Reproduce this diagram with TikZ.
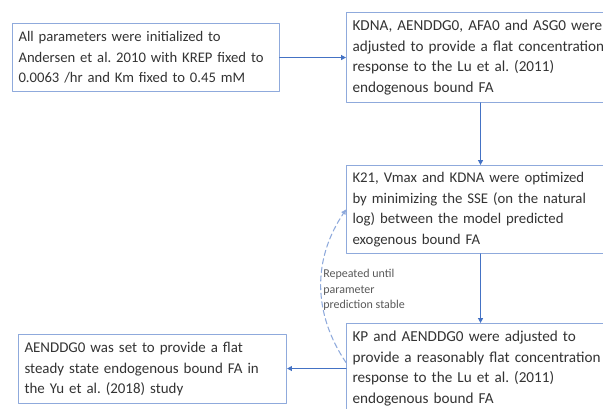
\documentclass[tikz,border=0pt]{standalone}
\usepackage{fontspec}
\setmainfont{Carlito}
\usepackage{xcolor}
\usepackage{tikz}
\usetikzlibrary{arrows.meta,positioning}
\definecolor{pkEdge}{HTML}{8FAADC}
\definecolor{pkArrow}{HTML}{4472C4}
\definecolor{pkInk}{HTML}{333333}
\definecolor{pkMuted}{HTML}{595959}
\newcommand{\pksize}[1]{\fontsize{#1}{15.3}\selectfont}
\tikzset{
  pk diagram/.style={font=\pksize{11}, text=pkInk,
    line cap=round, line join=round},
  pk box/.style={draw=pkEdge, fill=white, line width=0.8pt,
    anchor=north west, align=left, inner xsep=4.5pt, inner ysep=0pt},
  pk arrow/.style={-{Triangle[length=3.6pt,width=3.6pt]}, draw=pkArrow,
    line width=1.1pt},
  pk loop/.style={-{Triangle[length=3.6pt,width=3.6pt]}, draw=pkEdge,
    line width=0.8pt, dash pattern=on 4pt off 2.5pt},
  pk note/.style={font=\fontsize{9}{11.6}\selectfont, text=pkMuted,
    align=left, inner sep=0pt, anchor=west}
}
\begin{document}
\frenchspacing
\begin{tikzpicture}[pk diagram,x=0.75pt,y=-0.75pt]
\useasboundingbox (0,0) rectangle (603,408);
\clip (0,0) rectangle (603,408);
\node[pk box,text width=191pt,minimum height=51pt] (init) at (12,23)
  {All parameters were initialized to\\Andersen et al. 2010 with KREP fixed to\\0.0063 /hr and Km fixed to 0.45 mM};
\node[pk box,font=\pksize{11.4},text width=192pt,minimum height=67.5pt] (flat) at (346,12)
  {KDNA, AENDDG0, AFA0 and ASG0 were\\adjusted to provide a flat concentration\\response to the Lu et al. (2011)\\endogenous bound FA};
\node[pk box,font=\pksize{11.1},text width=192pt,minimum height=66pt] (optim) at (346,165)
  {K21, Vmax and KDNA were optimized\\by minimizing the SSE (on the natural\\log) between the model predicted\\exogenous bound FA};
\node[pk box,font=\pksize{11.4},text width=192pt,minimum height=67.5pt] (adjust) at (346,323)
  {KP and AENDDG0 were adjusted to\\provide a reasonably flat concentration\\response to the Lu et al. (2011)\\endogenous bound FA};
\node[pk box,font=\pksize{11.2},text width=192pt,minimum height=51.75pt] (steady) at (18,334)
  {AENDDG0 was set to provide a flat\\steady state endogenous bound FA in\\the Yu et al. (2018) study};
\node[pk note] (repeat) at (323,290) {Repeated until\\parameter\\prediction stable};
\draw[pk arrow] (init.east) -- (flat.west);
\draw[pk arrow] (flat) -- (optim);
\draw[pk arrow] (optim) -- (adjust);
\draw[pk arrow] (adjust.west) -- (steady.east |- adjust.west);
\draw[pk loop] ([yshift=4.5pt]adjust.west) to[bend left=34] (optim.west);
\end{tikzpicture}
\end{document}
